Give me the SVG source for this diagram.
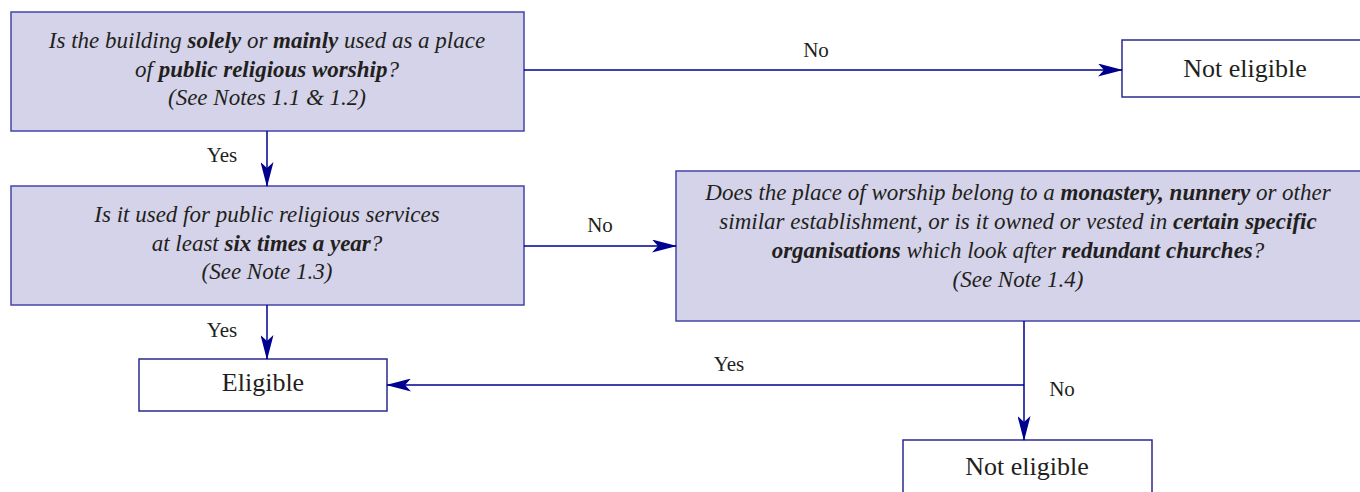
<svg xmlns="http://www.w3.org/2000/svg" width="1360" height="492" viewBox="0 0 1360 492">
<defs>
<style>
.q{fill:#d4d3e9;stroke:#4444a8;stroke-width:1.5}
.o{fill:#ffffff;stroke:#2a2a90;stroke-width:1.5}
.c{stroke:#00008f;stroke-width:1.5;fill:none}
</style>
<marker id="ah" viewBox="0 0 25 13" refX="24" refY="6.5" markerWidth="25" markerHeight="13" markerUnits="userSpaceOnUse" orient="auto">
<path d="M0,0 L25,6.5 L0,13 L6,6.5 Z" fill="#00008f"/>
</marker>
</defs>
<g id="q1">
<rect class="q" x="11" y="12" width="513" height="119"/>
<text font-family="Liberation Serif" font-size="23" font-style="italic" fill="#231f20" text-anchor="middle" x="267" y="48">Is the building <tspan font-weight="bold">solely</tspan> or <tspan font-weight="bold">mainly</tspan> used as a place</text>
<text font-family="Liberation Serif" font-size="23" font-style="italic" fill="#231f20" text-anchor="middle" x="267" y="77">of <tspan font-weight="bold">public religious worship</tspan>?</text>
<text font-family="Liberation Serif" font-size="23" font-style="italic" fill="#231f20" text-anchor="middle" x="267" y="105">(See Notes 1.1 &amp; 1.2)</text>
</g>
<g id="ne1">
<rect class="o" x="1122" y="40" width="240" height="57"/>
<text font-family="Liberation Serif" font-size="26" fill="#231f20" text-anchor="middle" x="1245" y="77">Not eligible</text>
</g>
<g id="q2">
<rect class="q" x="11" y="186" width="513" height="119"/>
<text font-family="Liberation Serif" font-size="23" font-style="italic" fill="#231f20" text-anchor="middle" x="267" y="222">Is it used for public religious services</text>
<text font-family="Liberation Serif" font-size="23" font-style="italic" fill="#231f20" text-anchor="middle" x="267" y="251">at least <tspan font-weight="bold">six times a year</tspan>?</text>
<text font-family="Liberation Serif" font-size="23" font-style="italic" fill="#231f20" text-anchor="middle" x="267" y="279">(See Note 1.3)</text>
</g>
<g id="q3">
<rect class="q" x="676" y="171" width="686" height="150"/>
<text font-family="Liberation Serif" font-size="23" font-style="italic" fill="#231f20" text-anchor="middle" x="1018" y="200">Does the place of worship belong to a <tspan font-weight="bold">monastery, nunnery</tspan> or other</text>
<text font-family="Liberation Serif" font-size="23" font-style="italic" fill="#231f20" text-anchor="middle" x="1018" y="229">similar establishment, or is it owned or vested in <tspan font-weight="bold">certain specific</tspan></text>
<text font-family="Liberation Serif" font-size="23" font-style="italic" fill="#231f20" text-anchor="middle" x="1018" y="258"><tspan font-weight="bold">organisations</tspan> which look after <tspan font-weight="bold">redundant churches</tspan>?</text>
<text font-family="Liberation Serif" font-size="23" font-style="italic" fill="#231f20" text-anchor="middle" x="1018" y="287">(See Note 1.4)</text>
</g>
<g id="el">
<rect class="o" x="139" y="359" width="248" height="52"/>
<text font-family="Liberation Serif" font-size="26" fill="#231f20" text-anchor="middle" x="263" y="391">Eligible</text>
</g>
<g id="ne2">
<rect class="o" x="903" y="440" width="249" height="60"/>
<text font-family="Liberation Serif" font-size="26" fill="#231f20" text-anchor="middle" x="1027" y="475">Not eligible</text>
</g>
<g id="connectors">
<line class="c" x1="524" y1="70" x2="1122" y2="70" marker-end="url(#ah)"/>
<line class="c" x1="267" y1="131" x2="267" y2="186" marker-end="url(#ah)"/>
<line class="c" x1="524" y1="246" x2="676" y2="246" marker-end="url(#ah)"/>
<line class="c" x1="267" y1="305" x2="267" y2="359" marker-end="url(#ah)"/>
<line class="c" x1="1024" y1="321" x2="1024" y2="440" marker-end="url(#ah)"/>
<line class="c" x1="1024" y1="385" x2="387" y2="385" marker-end="url(#ah)"/>
<text font-family="Liberation Serif" font-size="21" fill="#231f20" text-anchor="middle" x="816" y="57">No</text>
<text font-family="Liberation Serif" font-size="21" fill="#231f20" text-anchor="middle" x="222" y="162">Yes</text>
<text font-family="Liberation Serif" font-size="21" fill="#231f20" text-anchor="middle" x="600" y="232">No</text>
<text font-family="Liberation Serif" font-size="21" fill="#231f20" text-anchor="middle" x="222" y="337">Yes</text>
<text font-family="Liberation Serif" font-size="21" fill="#231f20" text-anchor="middle" x="729" y="371">Yes</text>
<text font-family="Liberation Serif" font-size="21" fill="#231f20" text-anchor="middle" x="1062" y="396">No</text>
</g>
</svg>
